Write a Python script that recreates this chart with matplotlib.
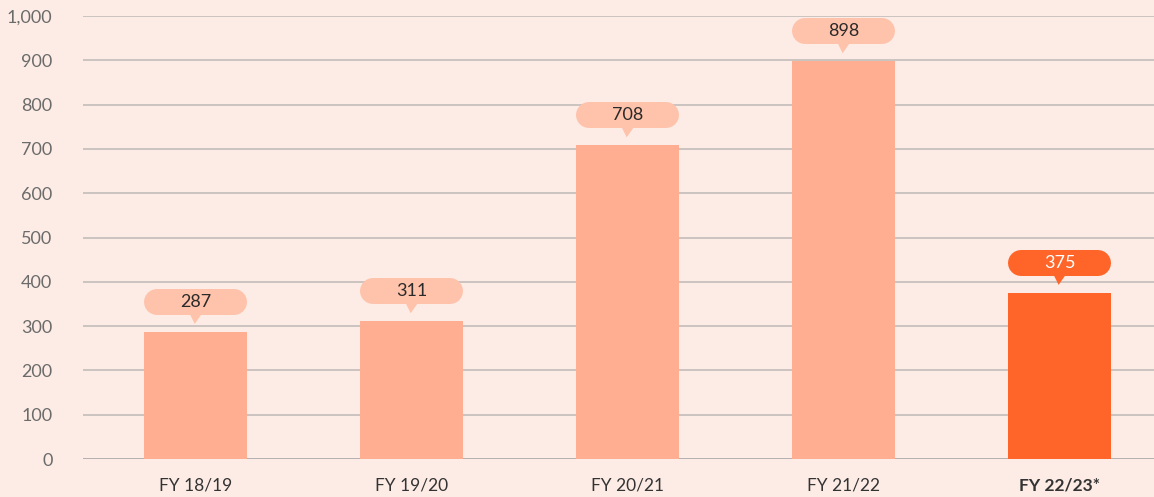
import numpy as np
import matplotlib
matplotlib.use("Agg")
from matplotlib import pyplot as plt
from matplotlib.lines import Line2D
from matplotlib.patches import Polygon

# data
categories = ['FY 18/19', 'FY 19/20', 'FY 20/21', 'FY 21/22', 'FY 22/23*']
values = [287, 311, 708, 898, 375]
highlight = [False, False, False, False, True]
yticks = [0, 100, 200, 300, 400, 500, 600, 700, 800, 900, 1000]

plt.rcParams['font.family'] = ['Lato', 'DejaVu Sans']

bg = '#FDECE5'
bar_light = '#FFAE91'
bar_dark = '#FF6428'
bubble_light = '#FFC2AA'

W, H = 1154, 497
fig = plt.figure(figsize=(W/100, H/100), dpi=100)
fig.patch.set_facecolor(bg)
ax = fig.add_axes([83/W, (H-459)/H, (W-83)/W, (459-16)/H])
ax.set_facecolor(bg)

x = np.arange(len(categories))
colors = [bar_dark if h else bar_light for h in highlight]
ax.bar(x, values, width=0.477, color=colors, zorder=3)

ax.set_xlim(-0.522, 4.437)
ax.set_ylim(0, 1000)
ax.set_yticks(yticks)
ax.set_yticklabels([f'{v:,}' for v in yticks])
ax.set_xticks(x)
ax.set_xticklabels(categories)
for lbl, h in zip(ax.get_xticklabels(), highlight):
    if h:
        lbl.set_fontweight('bold')
ax.tick_params(axis='y', length=0, pad=22, labelsize=13, labelcolor='#6b6b6b')
ax.tick_params(axis='x', length=0, pad=13, labelsize=12.5, labelcolor='#333333')
for sp in ax.spines.values():
    sp.set_visible(False)
ax.grid(axis='y', color='#CBC3C1', linewidth=1.4, zorder=1)
ax.axhline(0, color='#B7B0B0', linewidth=1.4, zorder=2)

# pill-shaped value labels, placed in pixels from the data transform
fig.canvas.draw()
bw, bh = 103, 26
r = bh / 2
for xi, v, h in zip(x, values, highlight):
    px, py = ax.transData.transform((xi, v))
    fc = bar_dark if h else bubble_light
    y0 = py + 17
    pill = Line2D([px - bw/2 + r, px + bw/2 - r], [y0 + r, y0 + r],
                  transform=None, color=fc, linewidth=bh * 72 / 100,
                  solid_capstyle='round', zorder=5)
    fig.lines.append(pill)
    tri = Polygon([[px - 6, y0 + 1], [px + 6, y0 + 1], [px - 1, y0 - 9]],
                  closed=True, transform=None, fc=fc, ec='none', zorder=5)
    fig.patches.append(tri)
    fig.text(px / W, (y0 + r) / H, f'{v}', ha='center', va='center',
             fontsize=13, color='white' if h else '#2a2a2a', zorder=6)

fig.savefig('out.png', dpi=100, facecolor=bg)
